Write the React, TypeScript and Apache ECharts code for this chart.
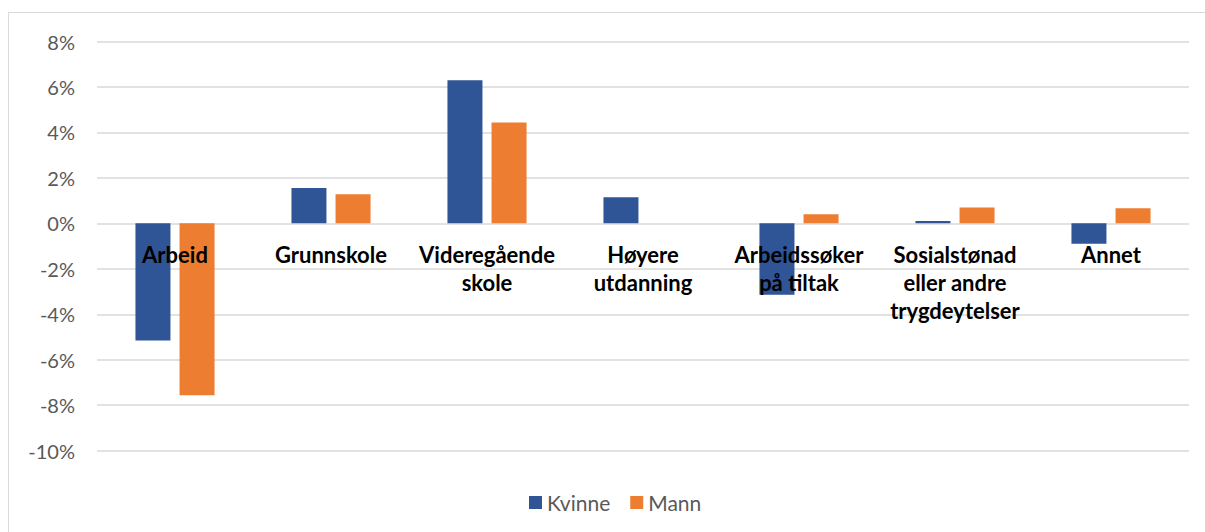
import React, { useEffect, useRef } from "react";
import * as echarts from "echarts";

const categories = [
  "Arbeid",
  "Grunnskole",
  "Videregående\nskole",
  "Høyere\nutdanning",
  "Arbeidssøker\npå tiltak",
  "Sosialstønad\neller andre\ntrygdeytelser",
  "Annet",
];
const kvinne = [-5.15, 1.56, 6.3, 1.15, -3.14, 0.1, -0.9];
const mann = [-7.56, 1.28, 4.44, 0, 0.4, 0.7, 0.66];
const seriesNames = ["Kvinne", "Mann"];
const yMin = -10;
const yMax = 8;
const yStep = 2;

export default function App() {
  const ref = useRef<HTMLDivElement>(null);
  useEffect(() => {
    if (!ref.current) return;
    const chart = echarts.init(ref.current, null, { renderer: "svg" });
    const font = "Lato, 'Open Sans', sans-serif";
    const gridTop = 28.5;
    const gridBottom = 81.3;
    const chartH = 519;
    const plotH = chartH - gridTop - gridBottom;
    const zeroY = gridTop + (plotH * (yMax - 0)) / (yMax - yMin);
    const labelTop = zeroY + 17;
    const labelMargin = labelTop - (chartH - gridBottom);
    chart.setOption({
      animation: false,
      textStyle: { fontFamily: font },
      grid: {
        left: 88,
        right: 16,
        top: gridTop,
        bottom: gridBottom,
        containLabel: false,
        outerBoundsMode: "none",
      },
      legend: {
        data: seriesNames,
        left: 515,
        top: 474,
        icon: "rect",
        itemWidth: 13,
        itemHeight: 13,
        itemGap: 20,
        textStyle: { color: "#595959", fontSize: 21, fontFamily: font },
      },
      xAxis: {
        type: "category",
        data: categories,
        z: 5,
        axisLine: { show: false, onZero: false },
        axisTick: { show: false },
        axisLabel: {
          interval: 0,
          margin: labelMargin,
          color: "#000",
          fontWeight: "bold",
          fontSize: 22,
          lineHeight: 28,
          fontFamily: font,
          align: "center",
          verticalAlign: "top",
        },
      },
      yAxis: {
        type: "value",
        min: yMin,
        max: yMax,
        interval: yStep,
        axisLine: { show: false },
        axisTick: { show: false },
        splitLine: { lineStyle: { color: "#d9d9d9", width: 1.5 } },
        axisLabel: {
          formatter: (v: number) => `${v}%`,
          color: "#595959",
          fontSize: 20,
          margin: 22,
          fontFamily: font,
        },
      },
      series: [
        {
          name: seriesNames[0],
          type: "bar",
          data: kvinne,
          barWidth: 35,
          barGap: "26%",
          itemStyle: { color: "#2F5597" },
        },
        {
          name: seriesNames[1],
          type: "bar",
          data: mann,
          barWidth: 35,
          barGap: "26%",
          itemStyle: { color: "#ED7D31" },
        },
      ],
    });
    return () => chart.dispose();
  }, []);
  return (
    <div
      style={{
        position: "absolute",
        left: 8,
        top: 12,
        width: 1197,
        height: 520,
        boxSizing: "border-box",
        borderTop: "1px solid #d9d9d9",
        borderLeft: "1px solid #d9d9d9",
        background: "#fff",
      }}
    >
      <div ref={ref} style={{ width: 1196, height: 519 }} />
    </div>
  );
}
